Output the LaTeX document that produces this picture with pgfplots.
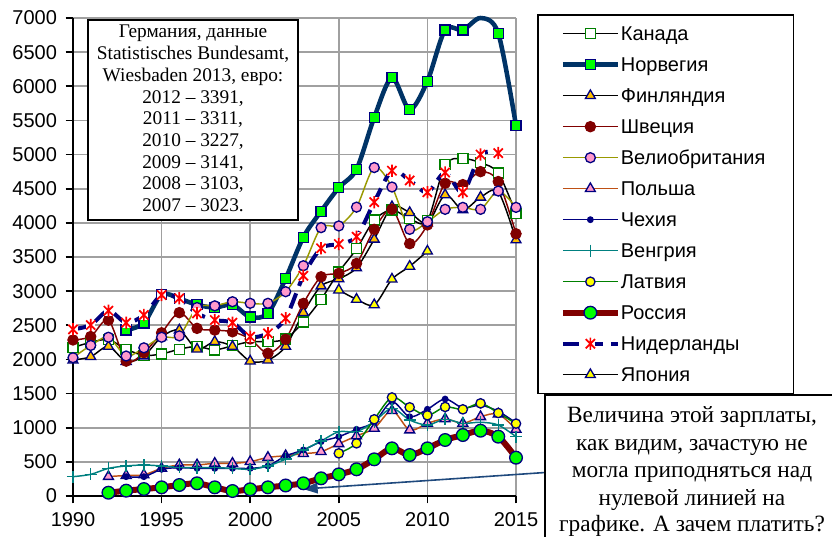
\documentclass[border=0pt]{standalone}
\usepackage{fontspec}
\setmainfont{Liberation Sans}
\newfontfamily\timesfont{Liberation Serif}
\usepackage{pgfplots}
\pgfplotsset{compat=1.18}
\usetikzlibrary{arrows.meta}

\definecolor{navyc}{RGB}{0,0,128}
\definecolor{norwc}{RGB}{0,51,102}
\definecolor{limec}{RGB}{0,255,0}
\definecolor{greenc}{RGB}{0,128,0}
\definecolor{goldc}{RGB}{255,192,0}
\definecolor{maroonc}{RGB}{128,0,0}
\definecolor{olivec}{RGB}{153,153,0}
\definecolor{pinkc}{RGB}{255,153,204}
\definecolor{brownc}{RGB}{190,80,20}
\definecolor{tealc}{RGB}{0,128,128}
\definecolor{yellowc}{RGB}{255,255,0}
\definecolor{redc}{RGB}{255,0,0}
\definecolor{arrowc}{RGB}{31,73,125}
\definecolor{gridc}{RGB}{160,160,160}

\pgfdeclareplotmark{exstar}{%
  \pgfpathrectangle{\pgfqpoint{-0.75\pgfplotmarksize}{-0.85\pgfplotmarksize}}{\pgfqpoint{1.5\pgfplotmarksize}{1.7\pgfplotmarksize}}%
  \pgfusepathqfill
  \pgfpathmoveto{\pgfqpoint{0pt}{\pgfplotmarksize}}%
  \pgfpathlineto{\pgfqpoint{0pt}{-\pgfplotmarksize}}%
  \pgfpathmoveto{\pgfqpoint{-0.75\pgfplotmarksize}{0.75\pgfplotmarksize}}%
  \pgfpathlineto{\pgfqpoint{0.75\pgfplotmarksize}{-0.75\pgfplotmarksize}}%
  \pgfpathmoveto{\pgfqpoint{-0.75\pgfplotmarksize}{-0.75\pgfplotmarksize}}%
  \pgfpathlineto{\pgfqpoint{0.75\pgfplotmarksize}{0.75\pgfplotmarksize}}%
  \pgfusepathqstroke
}

\pgfplotsset{
  stdlegend/.style={legend image code/.code={\draw[mark repeat=2,mark phase=2,##1] plot coordinates {(0pt,0pt)(20.625pt,0pt)(41.25pt,0pt)};}},
  norwlegend/.style={legend image code/.code={\draw[norwc, line width=3.4pt] (0pt,0pt)--(41.25pt,0pt); \draw[##1] plot coordinates {(20.625pt,0pt)};}},
}

\newcommand{\lgt}[1]{\makebox[113pt][l]{#1}}

\begin{document}
\begin{tikzpicture}
\useasboundingbox (0pt,0pt) rectangle (624pt,402pt);
\begin{axis}[
  at={(54.75pt,30pt)}, anchor=south west, scale only axis,
  width=332.25pt, height=358.5pt,
  xmin=1990, xmax=2015, ymin=0, ymax=7000,
  xtick={1990,1995,2000,2005,2010,2015},
  ytick={0,500,...,7000},
  axis x line*=bottom, axis y line*=left,
  axis line style={black, line width=1.8pt},
  grid=major, major grid style={draw=gridc, line width=1.3pt},
  tick align=outside, major tick length=5.5pt,
  tick style={black, line width=1.3pt},
  ticklabel style={font=\fontsize{15}{18}\selectfont},
  x tick label style={yshift=-3.5pt},
  y tick label style={xshift=-3pt},
  /pgf/number format/assume math mode=true,
  /pgf/number format/1000 sep={},
  clip=false,
  stdlegend,
  legend cell align=left,
  legend style={at={(1.0474,1.0084)}, anchor=north west, draw=black, line width=1.3pt, fill=white,
    inner xsep=16.5pt, inner ysep=2.5pt, row sep=0pt,
    font=\fontsize{15}{18}\selectfont,
    nodes={inner sep=0pt, text height=17pt, text depth=6.25pt}},
]
% Canada
\addplot[black, line width=1.1pt, smooth, mark=square*, mark size=3.75pt, mark options={solid, fill=white, draw=greenc, line width=1pt}] coordinates {
(1990,2175)(1991,2250)(1992,2290)(1993,2150)(1994,2060)(1995,2080)(1996,2150)(1997,2190)(1998,2140)(1999,2200)
(2000,2260)(2001,2260)(2002,2300)(2003,2550)(2004,2880)(2005,3280)(2006,3620)(2007,4040)(2008,4190)(2009,4060)
(2010,4030)(2011,4850)(2012,4940)(2013,4880)(2014,4730)(2015,4135)};
\addlegendentry{\lgt{Канада}}
% Norway line
\addplot[norwc, line width=3.4pt, smooth, forget plot] coordinates {
(1993,2430)(1994,2535)(1995,2950)(1996,2890)(1997,2800)(1998,2760)(1999,2800)(2000,2620)(2001,2675)(2002,3185)
(2003,3790)(2004,4170)(2005,4515)(2006,4785)(2007,5545)(2008,6125)(2009,5660)(2010,6075)(2011,6825)(2012,6825)
(2013,7000)(2014,6775)(2015,5425)};
\addplot[only marks, mark=square*, mark size=3.75pt, mark options={fill=limec, draw=navyc, line width=1pt}, norwlegend] coordinates {
(1993,2430)(1994,2535)(1995,2950)(1996,2890)(1997,2800)(1998,2760)(1999,2800)(2000,2620)(2001,2675)(2002,3185)
(2003,3790)(2004,4170)(2005,4515)(2006,4785)(2007,5545)(2008,6125)(2009,5660)(2010,6075)(2011,6825)(2012,6825)
(2014,6775)(2015,5425)};
\addlegendentry{\lgt{Норвегия}}
% Finland
\addplot[black, line width=1.1pt, smooth, mark=triangle*, mark size=4.3pt, mark options={solid, fill=goldc, draw=navyc, line width=1pt}] coordinates {
(1990,1990)(1991,2040)(1992,2190)(1993,1970)(1994,2050)(1995,2330)(1996,2430)(1997,2150)(1998,2260)(1999,2190)
(2000,1975)(2001,1990)(2002,2190)(2003,2685)(2004,3075)(2005,3180)(2006,3340)(2007,3760)(2008,4235)(2009,4150)
(2010,3995)(2011,4410)(2012,4190)(2013,4375)(2014,4455)(2015,3750)};
\addlegendentry{\lgt{Финляндия}}
% Sweden
\addplot[maroonc, line width=1.1pt, smooth, mark=*, mark size=3.9pt, mark options={solid, fill=maroonc, draw=maroonc, line width=0.8pt}] coordinates {
(1990,2285)(1991,2335)(1992,2575)(1993,1975)(1994,2100)(1995,2390)(1996,2685)(1997,2455)(1998,2430)(1999,2405)
(2000,2300)(2001,2090)(2002,2295)(2003,2820)(2004,3210)(2005,3260)(2006,3405)(2007,3905)(2008,4200)(2009,3695)
(2010,3970)(2011,4580)(2012,4560)(2013,4750)(2014,4605)(2015,3840)};
\addlegendentry{\lgt{Швеция}}
% GB
\addplot[olivec, line width=1.1pt, smooth, mark=*, mark size=3.75pt, mark options={solid, fill=pinkc, draw=navyc, line width=1pt}] coordinates {
(1990,2025)(1991,2205)(1992,2325)(1993,2050)(1994,2170)(1995,2325)(1996,2345)(1997,2760)(1998,2785)(1999,2845)
(2000,2822)(2001,2822)(2002,2992)(2003,3372)(2004,3930)(2005,3955)(2006,4230)(2007,4810)(2008,4525)(2009,3905)
(2010,4017)(2011,4198)(2012,4227)(2013,4198)(2014,4466)(2015,4227)};
\addlegendentry{\lgt{Велиобритания}}
% Poland
\addplot[brownc, line width=1.1pt, smooth, mark=triangle*, mark size=4.3pt, mark options={solid, fill=pinkc, draw=navyc, line width=1pt}] coordinates {
(1992,285)(1993,300)(1994,310)(1995,405)(1996,455)(1997,455)(1998,478)(1999,478)(2000,503)(2001,565)
(2002,590)(2003,620)(2004,649)(2005,765)(2006,880)(2007,991)(2008,1250)(2009,966)(2010,1064)(2011,1130)
(2012,1064)(2013,1161)(2014,1200)(2015,976)};
\addlegendentry{\lgt{Польша}}
% Czech
\addplot[navyc, line width=1.1pt, smooth, mark=*, mark size=2pt, mark options={solid, fill=navyc, draw=navyc}] coordinates {
(1993,283)(1994,283)(1995,391)(1996,415)(1997,405)(1998,405)(1999,405)(2000,405)(2001,440)(2002,586)
(2003,674)(2004,796)(2005,869)(2006,976)(2007,1080)(2008,1380)(2009,1160)(2010,1270)(2011,1420)(2012,1290)
(2013,1330)(2014,1240)(2015,1070)};
\addlegendentry{\lgt{Чехия}}
% Hungary
\addplot[tealc, line width=1.1pt, smooth, mark=+, mark size=4.5pt, mark options={solid, draw=tealc, line width=1.1pt}] coordinates {
(1990,283)(1991,317)(1992,405)(1993,440)(1994,454)(1995,440)(1996,420)(1997,415)(1998,415)(1999,405)
(2000,391)(2001,440)(2002,540)(2003,674)(2004,805)(2005,942)(2006,942)(2007,1090)(2008,1284)(2009,1113)
(2010,1040)(2011,1123)(2012,1064)(2013,1080)(2014,1040)(2015,869)};
\addlegendentry{\lgt{Венгрия}}
% Latvia
\addplot[greenc, line width=1.1pt, smooth, mark=*, mark size=3.5pt, mark options={solid, fill=yellowc, draw=navyc, line width=1pt}] coordinates {
(2005,625)(2006,771)(2007,1123)(2008,1443)(2009,1299)(2010,1181)(2011,1304)(2012,1269)(2013,1357)(2014,1215)(2015,1060)};
\addlegendentry{\lgt{Латвия}}
% Russia
\addplot[maroonc, line width=4.5pt, smooth, mark=*, mark size=4.75pt, mark options={solid, fill=limec, draw=navyc, line width=1pt}] coordinates {
(1992,48)(1993,78)(1994,102)(1995,127)(1996,161)(1997,186)(1998,127)(1999,73)(2000,98)(2001,127)
(2002,154)(2003,186)(2004,259)(2005,317)(2006,391)(2007,537)(2008,698)(2009,600)(2010,698)(2011,820)
(2012,893)(2013,956)(2014,869)(2015,561)};
\addlegendentry{\lgt{Россия}}
% Netherlands
\addplot[navyc, line width=3pt, smooth, dash pattern=on 12pt off 6pt, mark=exstar, mark size=4.6pt, mark options={solid, draw=redc, fill=white, line width=1.3pt}] coordinates {
(1990,2441)(1991,2504)(1992,2714)(1993,2538)(1994,2650)(1995,2943)(1996,2895)(1997,2675)(1998,2577)(1999,2538)
(2000,2333)(2001,2382)(2002,2602)(2003,3225)(2004,3627)(2005,3690)(2006,3797)(2007,4303)(2008,4764)(2009,4622)
(2010,4448)(2011,4737)(2012,4448)(2013,5000)(2014,5022)};
\addlegendentry{\lgt{Нидерланды}}
% Japan
\addplot[black, line width=1.1pt, smooth, mark=triangle*, mark size=4.3pt, mark options={solid, fill=yellowc, draw=navyc, line width=1pt}] coordinates {
(2005,3016)(2006,2880)(2007,2800)(2008,3175)(2009,3363)(2010,3585)};
\addlegendentry{\lgt{Япония}}

\draw[arrowc, line width=1.2pt, -{Triangle[length=11pt,width=8pt]}] (axis cs:2016.64,344) -- (axis cs:2002.98,102);
\end{axis}

\begin{scope}[x=0.75pt,y=0.75pt]
% Box 1
\draw[line width=1.3pt, fill=white] (88,516) rectangle (298,316);
\begin{scope}[every node/.style={anchor=base, inner sep=0pt, font=\timesfont\fontsize{14.5}{16}\selectfont}]
\node at (193,498) {Германия, данные};
\node at (193,476.3) {Statistisches Bundesamt,};
\node at (193,454.6) {Wiesbaden 2013, евро:};
\node at (193,432.9) {2012 – 3391,};
\node at (193,411.2) {2011 – 3311,};
\node at (193,389.5) {2010 – 3227,};
\node at (193,367.8) {2009 – 3141,};
\node at (193,346.1) {2008 – 3103,};
\node at (193,324.4) {2007 – 3023.};
\end{scope}

% Box 2
\draw[line width=1.3pt, fill=white] (545,141) rectangle (860,-20);
\begin{scope}[every node/.style={anchor=base, inner sep=0pt, font=\timesfont\fontsize{17.5}{20}\selectfont}]
\node at (692,113.5) {Величина этой зарплаты,};
\node at (692,86) {как видим, зачастую не};
\node at (692,58.5) {могла приподняться над};
\node at (692,31) {нулевой линией на};
\node at (692,4.5) {графике. А зачем платить?};
\end{scope}
\end{scope}
\end{tikzpicture}
\end{document}
